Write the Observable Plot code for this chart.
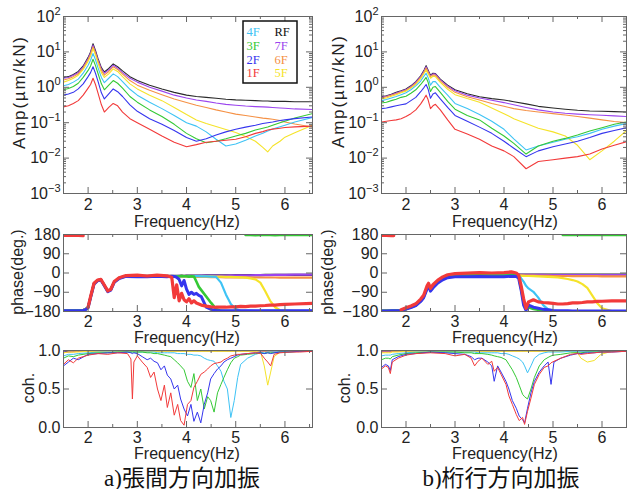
<!DOCTYPE html>
<html><head><meta charset="utf-8">
<script src="https://cdn.jsdelivr.net/npm/d3@7"></script>
<script src="https://cdn.jsdelivr.net/npm/@observablehq/plot@0.6"></script>
<style>
body{margin:0;background:#fff;}
#root{position:relative;width:627px;height:489px;overflow:hidden;background:#fff;}
#root svg{position:absolute;}
</style></head><body><div id="root"></div>
<script>
// ================= DATA =================
const floors = ["1F","2F","3F","4F","5F","6F","7F","RF"];
const legendCol1 = ["4F","3F","2F","1F"];
const legendCol2 = ["RF","7F","6F","5F"];
const freqTicks = [2,3,4,5,6];
const freqMinorTicks = [1.5,2.5,3.5,4.5,5.5,6.5];
const ampTicks = [0.001,0.01,0.1,1,10,100];
const phaseTicks = [-180,-90,0,90,180];
const cohTicks = [0,0.5,1];
const captions = ["a)張間方向加振","b)桁行方向加振"];
const yLabels = ["Amp(µm/kN)","phase(deg.)","coh."];
const xLabel = "Frequency(Hz)";

// ---- a) amplitude ----
const ampA_freq = [1.5,1.6,1.7,1.8,1.9,2.0,2.05,2.1,2.15,2.2,2.27,2.33,2.42,2.51,2.6,2.7,2.85,3.0,3.25,3.5,3.75,4.0,4.2,4.4,4.6,4.8,5.0,5.2,5.4,5.55,5.65,5.75,5.9,6.0,6.2,6.56];
const ampA_RF = [1.9,2.0,2.3,2.8,4.0,7.0,10,17,11,6.5,3.6,2.7,3.4,4.6,3.8,2.9,2.0,1.55,1.15,0.9,0.72,0.6,0.55,0.52,0.49,0.46,0.44,0.43,0.42,0.41,0.41,0.40,0.40,0.40,0.39,0.39];
const ampA_7F = [1.8,1.9,2.2,2.6,3.8,6.5,9.3,15.5,10,6.0,3.3,2.5,3.1,4.2,3.5,2.6,1.8,1.4,1.0,0.78,0.6,0.5,0.44,0.40,0.36,0.33,0.31,0.295,0.285,0.28,0.275,0.27,0.26,0.255,0.245,0.235];
const ampA_6F = [1.6,1.75,2.0,2.4,3.5,6.0,8.5,14,9.2,5.5,3.0,2.2,2.8,3.8,3.2,2.35,1.55,1.15,0.82,0.62,0.47,0.37,0.31,0.27,0.23,0.2,0.175,0.16,0.145,0.135,0.13,0.125,0.115,0.105,0.092,0.075];
const ampA_5F = [1.4,1.55,1.8,2.2,3.2,5.4,7.5,12.5,8.2,4.9,2.6,1.9,2.4,3.3,2.8,2.0,1.25,0.9,0.6,0.42,0.27,0.17,0.12,0.095,0.078,0.064,0.053,0.041,0.03,0.02,0.015,0.022,0.03,0.039,0.052,0.085];
const ampA_4F = [1.1,1.2,1.4,1.7,2.5,4.2,5.8,9.0,6.0,3.6,1.9,1.35,1.8,2.4,2.0,1.45,0.88,0.6,0.38,0.25,0.16,0.1,0.08,0.055,0.034,0.022,0.025,0.032,0.042,0.05,0.058,0.066,0.077,0.085,0.105,0.14];
const ampA_3F = [0.85,0.92,1.05,1.3,1.9,3.0,4.0,6.2,4.1,2.5,1.25,0.85,1.15,1.55,1.3,0.95,0.55,0.38,0.23,0.15,0.09,0.05,0.035,0.027,0.03,0.035,0.042,0.05,0.062,0.07,0.076,0.085,0.1,0.11,0.135,0.18];
const ampA_2F = [0.6,0.65,0.72,0.9,1.25,2.0,2.6,3.8,2.5,1.5,0.7,0.47,0.65,0.9,0.75,0.55,0.32,0.21,0.13,0.09,0.06,0.038,0.03,0.035,0.045,0.055,0.065,0.075,0.085,0.095,0.1,0.105,0.115,0.12,0.13,0.145];
const ampA_1F = [0.28,0.3,0.35,0.42,0.6,0.95,1.2,1.8,1.2,0.7,0.32,0.2,0.27,0.35,0.3,0.2,0.13,0.1,0.065,0.042,0.028,0.021,0.024,0.028,0.03,0.032,0.034,0.04,0.05,0.056,0.062,0.066,0.07,0.073,0.076,0.08];

// ---- b) amplitude ----
const ampB_freq = [1.5,1.6,1.7,1.8,1.9,2.0,2.1,2.2,2.3,2.37,2.41,2.45,2.5,2.55,2.6,2.7,2.85,3.0,3.25,3.5,3.75,4.0,4.2,4.45,4.7,5.0,5.25,5.5,5.75,6.0,6.25,6.5];
const ampB_RF = [0.54,0.58,0.64,0.72,0.8,0.9,1.1,1.45,2.1,3.1,4.1,3.1,2.2,2.5,2.45,1.7,1.15,0.85,0.66,0.54,0.48,0.44,0.39,0.34,0.29,0.26,0.24,0.225,0.215,0.21,0.205,0.2];
const ampB_7F = [0.52,0.56,0.62,0.69,0.77,0.86,1.05,1.4,2.0,2.9,3.8,2.9,2.1,2.4,2.35,1.62,1.08,0.8,0.6,0.5,0.43,0.37,0.32,0.27,0.23,0.2,0.185,0.175,0.168,0.162,0.156,0.15];
const ampB_6F = [0.5,0.54,0.6,0.66,0.74,0.83,1.0,1.3,1.9,2.7,3.5,2.7,2.0,2.25,2.2,1.52,1.0,0.72,0.54,0.44,0.35,0.29,0.25,0.22,0.2,0.18,0.165,0.15,0.135,0.12,0.108,0.1];
const ampB_5F = [0.47,0.5,0.56,0.62,0.7,0.78,0.95,1.2,1.75,2.5,3.1,2.4,1.8,2.05,2.0,1.38,0.88,0.62,0.48,0.38,0.26,0.18,0.13,0.095,0.07,0.055,0.042,0.023,0.009,0.016,0.03,0.06];
const ampB_4F = [0.42,0.45,0.5,0.55,0.62,0.7,0.85,1.1,1.5,2.1,2.5,1.9,1.15,1.45,1.45,1.0,0.6,0.35,0.25,0.17,0.11,0.065,0.035,0.017,0.022,0.028,0.034,0.04,0.05,0.065,0.08,0.095];
const ampB_3F = [0.36,0.38,0.42,0.46,0.52,0.56,0.68,0.85,1.2,1.6,1.9,1.4,0.76,1.0,1.05,0.72,0.4,0.24,0.16,0.12,0.07,0.042,0.026,0.013,0.022,0.03,0.036,0.045,0.058,0.072,0.09,0.105];
const ampB_2F = [0.25,0.26,0.28,0.3,0.32,0.34,0.42,0.52,0.75,1.0,1.2,0.9,0.49,0.65,0.7,0.47,0.27,0.16,0.11,0.075,0.05,0.03,0.019,0.011,0.016,0.021,0.025,0.03,0.038,0.05,0.06,0.072];
const ampB_1F = [0.105,0.11,0.115,0.12,0.13,0.15,0.18,0.23,0.34,0.48,0.6,0.45,0.25,0.3,0.33,0.23,0.12,0.065,0.048,0.034,0.022,0.016,0.011,0.005,0.008,0.009,0.01,0.011,0.013,0.018,0.023,0.029];

// ---- a) phase ----
const phaseA_freq = [1.5,1.7,1.9,1.95,2.0,2.05,2.12,2.19,2.26,2.33,2.4,2.46,2.53,2.63,2.77,3.0,3.2,3.4,3.6,3.7,3.75,3.8,3.85,3.9,3.95,4.0,4.05,4.1,4.15,4.2,4.25,4.3,4.4,4.5,4.6,4.7,4.8,4.9,5.0,5.1,5.2,5.3,5.4,5.5,5.6,5.7,5.8,5.9,6.0,6.2,6.56];
const phaseA_1F = [176,177,175,null,-160,-110,-48,-33,-30,-56,-84,-76,-40,-22,-12,-10,-14,-10,-13,-20,-115,-55,-130,-95,-125,-135,-120,-140,-130,-140,-145,-150,-155,-158,-160,-160,-160,-158,-158,-156,-157,-155,-155,-153,-152,-150,-150,-148,-147,-145,-142];
const phaseA_2F = [-177,-177,-175,-171,-162,-115,-52,-37,-33,-60,-87,-80,-44,-26,-16,-17,-18,-15,-17,-15,-16,-20,-30,-60,-35,-75,-100,-90,-100,-95,-105,-110,-160,-170,-175,-176,-177,-176,-176,-176,-176,-176,-177,-177,-177,-176,-176,-176,-176,-176,-177];
const phaseA_3F = [-177,-176,-175,-170,-161,-114,-51,-36,-32,-59,-86,-79,-43,-25,-15,-16,-17,-14,-16,-15,-15,-16,-15,-14,-15,-15,-17,-15,-16,-40,-65,-80,-110,-140,-168,-177,-178,-178,-178,null,178,178,177,178,178,178,177,178,178,178,178];
const phaseA_4F = [-176,-176,-174,-170,-160,-113,-50,-35,-31,-58,-85,-78,-42,-24,-14,-15,-16,-14,-15,-15,-15,-14,-15,-15,-14,-15,-15,-15,-14,-15,-15,-16,-16,-17,-18,-45,-100,-145,-168,-176,-176,-176,-177,-177,-176,-176,-176,-177,-176,-177,-176];
const phaseA_5F = [-176,-175,-174,-169,-159,-112,-49,-34,-31,-57,-84,-77,-41,-23,-14,-15,-15,-14,-15,-15,-15,-15,-15,-15,-15,-15,-15,-15,-15,-15,-15,-16,-16,-16,-17,-17,-18,-18,-19,-20,-22,-25,-30,-45,-85,-130,-160,-174,-177,-177,-178];
const phaseA_6F = [-176,-175,-173,-169,-159,-112,-49,-34,-30,-57,-84,-77,-41,-23,-14,-15,-15,-15,-16,-16,-16,-16,-17,-16,-17,-17,-17,-18,-17,-18,-18,-18,-18,-19,-19,-19,-20,-20,-20,-20,-20,-21,-21,-21,-21,-21,-21,-22,-22,-22,-22];
const phaseA_7F = [-176,-175,-173,-169,-159,-112,-49,-34,-30,-57,-84,-77,-41,-23,-13,-13,-14,-13,-14,-14,-14,-14,-13,-14,-14,-13,-14,-13,-13,-13,-13,-12,-12,-12,-12,-12,-12,-11,-11,-11,-11,-11,-10,-10,-10,-10,-9,-9,-9,-8,-8];
const phaseA_RF = [-176,-175,-173,-169,-159,-112,-49,-34,-30,-57,-84,-77,-41,-23,-13,-13,-13,-12,-13,-13,-13,-13,-13,-12,-13,-12,-12,-12,-12,-12,-12,-12,-11,-11,-11,-11,-11,-11,-10,-10,-10,-10,-10,-10,-9,-9,-9,-9,-9,-9,-9];

// ---- b) phase ----
const phaseB_freq = [1.5,1.6,1.7,1.75,1.8,1.9,2.0,2.1,2.2,2.3,2.36,2.43,2.46,2.5,2.55,2.65,2.75,2.85,3.0,3.25,3.5,3.75,4.0,4.15,4.25,4.3,4.35,4.4,4.45,4.5,4.6,4.7,4.8,4.9,5.0,5.1,5.2,5.3,5.4,5.5,5.6,5.7,5.8,5.9,6.0,6.2,6.5];
const phaseB_1F = [176,176,175,175,null,-172,-163,-154,-144,-122,-104,-60,-48,-72,-55,-33,-18,-8,-3,-1,2,0,2,5,0,-10,-60,-120,-165,-135,-125,-135,-138,-140,-142,-145,-145,-143,-140,-140,-138,-135,-135,-133,-132,-130,-130];
const phaseB_2F = [-178,-178,-177,-177,-177,-176,-169,-162,-153,-133,-116,-75,-62,-85,-70,-47,-32,-22,-18,-17,-16,-17,-17,-15,-16,-25,-80,-150,-175,-150,-160,-165,-170,-172,-175,-176,-177,-177,-178,-178,-178,-178,-178,-178,-178,-178,-178];
const phaseB_3F = [-177,-177,-177,-176,-176,-175,-168,-160,-151,-131,-113,-72,-58,-82,-66,-44,-29,-19,-14,-12,-11,-12,-12,-10,-12,-20,-75,-140,-165,-160,-168,-172,-175,-177,-178,null,178,178,178,178,178,178,178,178,178,178,178];
const phaseB_4F = [-177,-177,-176,-176,-176,-174,-167,-159,-150,-129,-111,-69,-55,-79,-63,-41,-26,-16,-11,-9,-8,-9,-9,-9,-10,-12,-25,-40,-60,-72,-88,-115,-150,-170,-176,-178,-178,-178,-178,-178,-178,-178,-178,-178,-178,-178,-178];
const phaseB_5F = [-177,-177,-176,-176,-176,-174,-166,-158,-149,-128,-110,-68,-54,-78,-62,-40,-25,-15,-10,-9,-9,-10,-10,-11,-12,-12,-13,-13,-14,-14,-15,-16,-17,-18,-19,-21,-24,-28,-33,-40,-52,-70,-105,-140,-165,-178,-179];
const phaseB_6F = [-177,-176,-176,-176,-175,-174,-166,-158,-149,-128,-110,-68,-54,-78,-62,-40,-25,-15,-10,-9,-9,-10,-10,-10,-11,-11,-11,-12,-12,-12,-12,-13,-13,-13,-14,-14,-14,-14,-15,-15,-15,-15,-15,-15,-16,-16,-16];
const phaseB_7F = [-177,-176,-176,-176,-175,-173,-166,-158,-148,-127,-109,-67,-53,-77,-61,-39,-24,-14,-9,-8,-8,-8,-8,-8,-8,-8,-9,-9,-9,-9,-9,-9,-9,-10,-10,-10,-10,-10,-10,-10,-10,-10,-10,-10,-10,-10,-10];
const phaseB_RF = [-177,-176,-176,-176,-175,-173,-165,-157,-148,-127,-109,-67,-53,-77,-61,-39,-24,-14,-9,-7,-7,-7,-7,-7,-7,-7,-7,-8,-8,-8,-8,-8,-8,-8,-8,-8,-8,-8,-8,-8,-8,-8,-8,-8,-8,-8,-8];

// ---- a) coherence ----
const cohA_freq = [1.5,1.6,1.7,1.8,2.0,2.2,2.4,2.6,2.8,2.87,2.9,2.93,3.0,3.1,3.2,3.27,3.34,3.41,3.48,3.55,3.61,3.68,3.75,3.82,3.88,3.95,4.02,4.09,4.15,4.22,4.29,4.36,4.43,4.49,4.56,4.63,4.7,4.76,4.83,4.9,4.97,5.04,5.1,5.24,5.4,5.51,5.58,5.65,5.71,5.78,5.9,6.1,6.3,6.56];
const cohA_1F = [.82,.88,.84,.9,.94,.96,.95,.97,.96,.89,.37,.85,.93,.85,.78,.65,.72,.5,.35,.55,.26,.45,.16,.3,.09,.03,.3,.35,.52,.6,.69,.72,.76,.8,.83,.84,.85,.88,.9,.93,.94,.95,.95,.96,.97,.96,.9,.85,.8,.95,.97,.98,.98,.99];
const cohA_2F = [.8,.85,.9,.88,.95,.96,.97,.97,.98,.97,.96,.97,.96,.92,.88,.9,.86,.84,.75,.8,.68,.63,.5,.55,.37,.24,.15,.3,.08,.2,.06,.3,.45,.63,.7,.76,.8,.85,.88,.9,.92,.94,.95,.96,.97,.97,.96,.97,.96,.97,.98,.98,.99,.99];
const cohA_3F = [.9,.93,.92,.94,.96,.97,.97,.98,.98,.98,.98,.98,.98,.98,.97,.97,.96,.96,.95,.94,.93,.92,.88,.84,.8,.75,.6,.52,.7,.35,.5,.24,.4,.35,.2,.45,.56,.65,.75,.84,.9,.92,.94,.95,.96,.97,.96,.97,.97,.97,.98,.98,.99,.99];
const cohA_4F = [.93,.95,.95,.96,.97,.98,.98,.98,.98,.98,.98,.98,.98,.98,.98,.98,.98,.97,.97,.97,.97,.97,.97,.96,.96,.96,.95,.95,.94,.94,.93,.9,.88,.87,.86,.8,.73,.6,.5,.13,.35,.65,.82,.9,.95,.97,.97,.98,.98,.98,.98,.99,.99,.99];
const cohA_5F = [.97,.98,.98,.98,.99,.99,.99,.99,.99,.99,.99,.99,.99,.99,.99,.99,.99,.99,.99,.99,.99,.99,.99,.99,.99,.99,.99,.99,.99,.99,.99,.99,.99,.99,.99,.99,.99,.99,.99,.99,.99,.99,.99,.99,.99,.97,.8,.55,.72,.92,.98,.99,.99,.99];
const cohA_6F = [.97,.98,.98,.99,.99,.99,.995,.995,.995,.995,.995,.995,.995,.995,.995,.995,.995,.995,.995,.995,.995,.995,.995,.995,.995,.995,.995,.995,.995,.995,.995,.995,.995,.995,.995,.995,.995,.995,.995,.995,.995,.995,.995,.995,.995,.995,.99,.99,.99,.995,.995,.995,.995,.995];
const cohA_7F = [.98,.98,.99,.99,.99,.995,.995,.995,.995,.995,.995,.995,.995,.995,.995,.995,.995,.995,.995,.995,.995,.995,.995,.995,.995,.995,.995,.995,.995,.995,.995,.995,.995,.995,.995,.995,.995,.995,.995,.995,.995,.995,.995,.995,.995,.995,.995,.995,.995,.995,.995,.995,.995,.995];
const cohA_RF = [.98,.99,.99,.99,.995,.995,.995,.995,.995,.995,.995,.995,.995,.995,.995,.995,.995,.995,.995,.995,.995,.995,.995,.995,.995,.995,.995,.995,.995,.995,.995,.995,.995,.995,.995,.995,.995,.995,.995,.995,.995,.995,.995,.995,.995,.995,.995,.995,.995,.995,.995,.995,.995,.995];

// ---- b) coherence ----
const cohB_freq = [1.5,1.58,1.64,1.68,1.72,1.84,2.0,2.2,2.5,2.8,3.0,3.2,3.33,3.4,3.47,3.55,3.67,3.75,3.8,3.87,3.94,4.04,4.1,4.17,4.25,4.31,4.38,4.42,4.48,4.55,4.62,4.72,4.82,4.9,4.96,5.02,5.16,5.36,5.5,5.57,5.7,5.84,5.98,6.2,6.5];
const cohB_1F = [.76,.8,.78,.7,.85,.9,.94,.96,.97,.96,.93,.95,.9,.8,.86,.9,.82,.86,.73,.78,.69,.56,.41,.3,.17,.09,.13,.04,.21,.38,.56,.69,.78,.8,.84,.86,.9,.95,.96,.95,.96,.97,.98,.98,.99];
const cohB_2F = [.78,.82,.8,.74,.88,.92,.95,.96,.98,.97,.96,.95,.92,.88,.9,.9,.85,.8,.6,.8,.72,.6,.5,.35,.25,.15,.1,.06,.25,.45,.6,.72,.8,.85,.56,.85,.9,.94,.96,.96,.97,.97,.98,.98,.99];
const cohB_3F = [.88,.9,.9,.89,.92,.94,.96,.97,.98,.98,.98,.97,.97,.96,.96,.96,.95,.94,.93,.92,.91,.88,.82,.75,.65,.55,.43,.4,.37,.5,.65,.8,.88,.91,.93,.94,.95,.97,.97,.97,.98,.98,.98,.99,.99];
const cohB_4F = [.93,.94,.94,.94,.95,.96,.97,.98,.98,.98,.98,.98,.98,.98,.97,.97,.97,.97,.97,.97,.96,.96,.95,.93,.91,.89,.85,.8,.71,.8,.9,.95,.97,.98,.98,.98,.98,.99,.99,.99,.99,.99,.99,.99,.99];
const cohB_5F = [.97,.97,.97,.97,.98,.98,.99,.99,.99,.99,.99,.99,.99,.99,.99,.99,.99,.99,.99,.99,.99,.99,.99,.99,.99,.99,.99,.99,.99,.99,.99,.99,.99,.99,.99,.99,.99,.99,.97,.9,.85,.87,.95,.99,.99];
const cohB_6F = [.98,.98,.98,.98,.99,.99,.995,.995,.995,.995,.995,.995,.995,.995,.995,.995,.995,.995,.995,.995,.995,.995,.995,.995,.995,.995,.995,.995,.995,.995,.995,.995,.995,.995,.995,.995,.995,.995,.99,.99,.99,.99,.995,.995,.995];
const cohB_7F = [.98,.99,.99,.99,.99,.995,.995,.995,.995,.995,.995,.995,.995,.995,.995,.995,.995,.995,.995,.995,.995,.995,.995,.995,.995,.995,.995,.995,.995,.995,.995,.995,.995,.995,.995,.995,.995,.995,.995,.995,.995,.995,.995,.995,.995];
const cohB_RF = [.99,.99,.99,.99,.99,.995,.995,.995,.995,.995,.995,.995,.995,.995,.995,.995,.995,.995,.995,.995,.995,.995,.995,.995,.995,.995,.995,.995,.995,.995,.995,.995,.995,.995,.995,.995,.995,.995,.995,.995,.995,.995,.995,.995,.995];

// ================= STYLE / BUILD =================
const colors = {"1F":"#f23a3a","2F":"#3535ee","3F":"#35c935","4F":"#3ec3f5","5F":"#f5e32a","6F":"#f59145","7F":"#9b45ee","RF":"#2a2a2a"};
const drawOrder = ["RF","7F","6F","5F","4F","3F","2F","1F"];
const FONT = "'Liberation Sans', Arial, Helvetica, sans-serif";
const FR = "#666";

const ampA = {"1F":ampA_1F,"2F":ampA_2F,"3F":ampA_3F,"4F":ampA_4F,"5F":ampA_5F,"6F":ampA_6F,"7F":ampA_7F,"RF":ampA_RF};
const ampB = {"1F":ampB_1F,"2F":ampB_2F,"3F":ampB_3F,"4F":ampB_4F,"5F":ampB_5F,"6F":ampB_6F,"7F":ampB_7F,"RF":ampB_RF};
const phaseA = {"1F":phaseA_1F,"2F":phaseA_2F,"3F":phaseA_3F,"4F":phaseA_4F,"5F":phaseA_5F,"6F":phaseA_6F,"7F":phaseA_7F,"RF":phaseA_RF};
const phaseB = {"1F":phaseB_1F,"2F":phaseB_2F,"3F":phaseB_3F,"4F":phaseB_4F,"5F":phaseB_5F,"6F":phaseB_6F,"7F":phaseB_7F,"RF":phaseB_RF};
const cohA = {"1F":cohA_1F,"2F":cohA_2F,"3F":cohA_3F,"4F":cohA_4F,"5F":cohA_5F,"6F":cohA_6F,"7F":cohA_7F,"RF":cohA_RF};
const cohB = {"1F":cohB_1F,"2F":cohB_2F,"3F":cohB_3F,"4F":cohB_4F,"5F":cohB_5F,"6F":cohB_6F,"7F":cohB_7F,"RF":cohB_RF};

const root = document.getElementById("root");
const NS = "http://www.w3.org/2000/svg";

function panel(cfg) {
  const {left, top, width, height, mt, mb, ml, mr, xDomain, yOpts, freq, series, lw, yTicks, yMinor, fmt, exp, padX} = cfg;
  const W = width - ml - mr, H = height - mt - mb;
  const marks = [];
  for (const fl of drawOrder) {
    const rows = freq.map((f, i) => ({f, v: series[fl][i]}));
    marks.push(Plot.line(rows, {x: "f", y: "v", stroke: colors[fl], strokeWidth: lw(fl), clip: true, strokeLinejoin: "round"}));
  }
  marks.push(Plot.frame({stroke: FR, strokeWidth: 1}));
  marks.push(Plot.tickX(freqTicks, {x: d => d, insetTop: H - 6, stroke: FR}));
  marks.push(Plot.tickX(freqTicks, {x: d => d, insetBottom: H - 6, stroke: FR}));
  marks.push(Plot.tickX(freqMinorTicks, {x: d => d, insetTop: H - 3, stroke: FR}));
  marks.push(Plot.tickX(freqMinorTicks, {x: d => d, insetBottom: H - 3, stroke: FR}));
  marks.push(Plot.tickY(yTicks, {y: d => d, insetRight: W - 6, stroke: FR}));
  marks.push(Plot.tickY(yTicks, {y: d => d, insetLeft: W - 6, stroke: FR}));
  if (yMinor.length) {
    marks.push(Plot.tickY(yMinor, {y: d => d, insetRight: W - 3, stroke: FR}));
    marks.push(Plot.tickY(yMinor, {y: d => d, insetLeft: W - 3, stroke: FR}));
  }
  marks.push(Plot.axisX(freqTicks, {anchor: "bottom", tickSize: 0, tickPadding: padX, label: null}));
  marks.push(Plot.axisY(yTicks, {anchor: "left", tickSize: 0, tickPadding: 3, label: null, tickFormat: fmt}));
  const svg = Plot.plot({
    width, height, marginTop: mt, marginBottom: mb, marginLeft: ml, marginRight: mr,
    style: {fontFamily: FONT, fontSize: "16px", color: "#222", background: "transparent", overflow: "visible"},
    x: {domain: xDomain},
    y: yOpts,
    marks
  });
  if (exp) {
    svg.querySelectorAll('g[aria-label="y-axis tick label"] text').forEach(t => {
      const e = t.textContent;
      t.textContent = "10";
      const ts = document.createElementNS(NS, "tspan");
      ts.setAttribute("dy", "-7");
      ts.setAttribute("font-size", "11");
      ts.textContent = e;
      t.appendChild(ts);
    });
  }
  svg.style.left = left + "px";
  svg.style.top = top + "px";
  root.appendChild(svg);
}

const logMinor = [];
for (let e = -3; e < 2; e++) for (let m = 2; m <= 9; m++) logMinor.push(m * Math.pow(10, e));
const expFmt = d => String(Math.round(Math.log10(d))).replace("-", "\u2212");
const ampLW = () => 1.1;
const phaseLW = fl => fl === "1F" ? 3.2 : (fl === "2F" ? 3 : (fl === "3F" ? 2.6 : 2.2));
const cohLW = () => 1;

const cols = [
  {left: 0, width: 320, ml: 63, mr: 8, xDomain: [1.5, 6.56], amp: [ampA_freq, ampA], ph: [phaseA_freq, phaseA], co: [cohA_freq, cohA]},
  {left: 318, width: 309, ml: 63, mr: 1, xDomain: [1.5, 6.5], amp: [ampB_freq, ampB], ph: [phaseB_freq, phaseB], co: [cohB_freq, cohB]}
];
for (const c of cols) {
  panel({left: c.left, top: 0, width: c.width, height: 230, mt: 16, mb: 37, ml: c.ml, mr: c.mr, xDomain: c.xDomain,
    yOpts: {type: "log", domain: [0.001, 100]}, freq: c.amp[0], series: c.amp[1], lw: ampLW,
    yTicks: ampTicks, yMinor: logMinor, fmt: expFmt, exp: true, padX: 5});
  panel({left: c.left, top: 225, width: c.width, height: 110, mt: 9, mb: 24, ml: c.ml, mr: c.mr, xDomain: c.xDomain,
    yOpts: {domain: [-180, 180]}, freq: c.ph[0], series: c.ph[1], lw: phaseLW,
    yTicks: phaseTicks, yMinor: [], fmt: d => String(d).replace("-", "\u2212"), exp: false, padX: 4});
  panel({left: c.left, top: 340, width: c.width, height: 100, mt: 10, mb: 13, ml: c.ml, mr: c.mr, xDomain: c.xDomain,
    yOpts: {domain: [0, 1]}, freq: c.co[0], series: c.co[1], lw: cohLW,
    yTicks: cohTicks, yMinor: [], fmt: d3.format(".1f"), exp: false, padX: 4});
}

// ---------- overlay: axis titles, legend, captions ----------
const ov = d3.create("svg").attr("width", 627).attr("height", 489).style("left", "0px").style("top", "0px")
  .style("font-family", FONT).style("font-size", "16px").attr("fill", "#222");
const xLabelPos = [[187, 221.5], [187, 337], [187, 453], [505, 221.5], [505, 337], [505, 453]];
for (const [x, y] of xLabelPos) ov.append("text").attr("x", x).attr("y", y).attr("text-anchor", "middle").attr("dominant-baseline", "central").text(xLabel);
const yLabelPos = [[19, 93, 0], [17, 272, 1], [28, 388, 2], [338, 92, 0], [327, 272, 1], [344, 388, 2]];
for (const [x, y, i] of yLabelPos) {
  const t = ov.append("text").attr("transform", `translate(${x},${y}) rotate(-90)`).attr("text-anchor", "middle").attr("dominant-baseline", "central").text(yLabels[i]);
  if (i === 0) t.attr("font-size", 17).attr("textLength", 112);
}
// legend
const lg = ov.append("g");
lg.append("rect").attr("x", 243).attr("y", 21).attr("width", 54).attr("height", 62).attr("fill", "#fff").attr("stroke", "#111").attr("stroke-width", 1.5);
const rowsY = [32.4, 46, 59.6, 73.2];
const legendFont = "'Liberation Serif', 'Times New Roman', serif";
legendCol1.forEach((fl, i) => lg.append("text").attr("x", 246.5).attr("y", rowsY[i]).attr("dominant-baseline", "central").attr("font-family", legendFont).attr("font-size", 12.5).attr("fill", colors[fl]).text(fl));
legendCol2.forEach((fl, i) => lg.append("text").attr("x", 274.5).attr("y", rowsY[i]).attr("dominant-baseline", "central").attr("font-family", legendFont).attr("font-size", 12.5).attr("fill", colors[fl] === "#2a2a2a" ? "#111" : colors[fl]).text(fl));
// captions
[[182, 0], [501, 1]].forEach(([x, i]) => ov.append("text").attr("x", x).attr("y", 478).attr("text-anchor", "middle").attr("dominant-baseline", "central")
  .attr("font-family", "'Liberation Serif', 'Noto Sans CJK JP', serif").attr("font-size", 23).attr("fill", "#111").text(captions[i]));
root.appendChild(ov.node());
</script></body></html>
